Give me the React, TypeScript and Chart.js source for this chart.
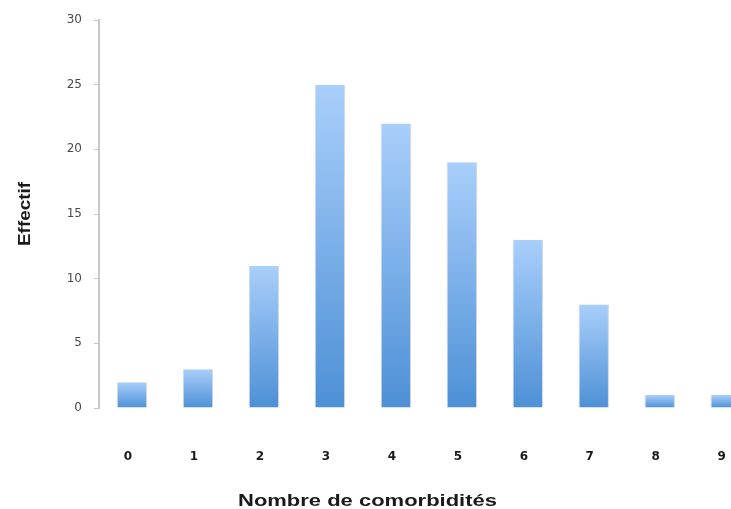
import React, { useEffect, useRef } from "react";
import { Chart, registerables } from "chart.js";

Chart.register(...registerables);

const categories = ["0", "1", "2", "3", "4", "5", "6", "7", "8", "9"];
const counts = [2, 3, 11, 25, 22, 19, 13, 8, 1, 1];
const yTicks = [0, 5, 10, 15, 20, 25, 30];
const xTitle = "Nombre de comorbidités";
const yTitle = "Effectif";

const FONT = "'DejaVu Sans', 'Liberation Sans', Arial, sans-serif";
const TFONT = "'Liberation Sans', Arial, Helvetica, sans-serif";

function drawStretched(
  ctx: CanvasRenderingContext2D,
  text: string,
  x: number,
  y: number,
  target: number
) {
  const w = ctx.measureText(text).width;
  const s = target / w;
  ctx.save();
  ctx.translate(x, y);
  ctx.scale(s, 1);
  ctx.fillText(text, 0, 0);
  ctx.restore();
}

export default function App() {
  const ref = useRef<HTMLCanvasElement | null>(null);

  useEffect(() => {
    document.body.style.overflow = "hidden";
    const canvas = ref.current!;
    const titlePlugin = {
      id: "titlesPlugin",
      afterDraw(chart: any) {
        const { ctx, chartArea } = chart;
        ctx.save();
        ctx.font = `bold 17px ${TFONT}`;
        ctx.fillStyle = "#1a1a1a";
        ctx.textAlign = "left";
        ctx.textBaseline = "alphabetic";
        drawStretched(ctx, xTitle, chartArea.left + 139, 506, 259);
        ctx.restore();

        ctx.save();
        ctx.font = `bold 16px ${TFONT}`;
        ctx.fillStyle = "#1a1a1a";
        ctx.translate(30, (chartArea.top + chartArea.bottom) / 2);
        ctx.rotate(-Math.PI / 2);
        ctx.textAlign = "left";
        ctx.textBaseline = "alphabetic";
        drawStretched(ctx, yTitle, -32, 0, 64);
        ctx.restore();
      },
    };
    const chart = new Chart(canvas, {
      type: "bar",
      data: {
        labels: categories,
        datasets: [
          {
            data: counts,
            backgroundColor: (c: any) => {
              const chart = c.chart;
              const y = chart.scales?.y;
              if (!y || c.raw == null) return "#7fb2ea";
              const top = y.getPixelForValue(c.raw);
              const base = y.getPixelForValue(0);
              if (!isFinite(top) || !isFinite(base) || top === base) return "#7fb2ea";
              const g = chart.ctx.createLinearGradient(0, top, 0, base);
              g.addColorStop(0, "#a9cffb");
              g.addColorStop(1, "#4d90d6");
              return g;
            },
            borderColor: "rgba(120,140,170,0.35)",
            borderWidth: { left: 1, right: 1, top: 0, bottom: 0 } as any,
            barPercentage: 0.46,
            categoryPercentage: 1,
          },
        ],
      },
      options: {
        animation: false,
        responsive: false,
        maintainAspectRatio: false,
        layout: { padding: { left: 0, right: 2, top: 20, bottom: 0 } },
        plugins: {
          legend: { display: false },
          tooltip: { enabled: false },
          title: { display: false },
        },
        scales: {
          x: {
            grid: { display: false },
            border: { display: false },
            ticks: {
              color: "#1a1a1a",
              font: { family: FONT, size: 12, weight: "bold" },
              padding: 34,
              labelOffset: -4,
              maxRotation: 0,
            },
            afterFit: (s: any) => {
              s.height = 101;
            },
          },
          y: {
            min: 0,
            max: 30,
            afterBuildTicks: (s: any) => {
              s.ticks = yTicks.map((v) => ({ value: v }));
            },
            grid: {
              display: true,
              drawOnChartArea: false,
              drawTicks: true,
              tickLength: 5,
              color: "#c8c8c8",
              lineWidth: 1,
            },
            border: { display: true, color: "#c8c8c8", width: 2 },
            ticks: {
              color: "#4a4a4a",
              font: { family: FONT, size: 12 },
              padding: 12,
            },
            afterFit: (s: any) => {
              s.width = 99;
            },
          },
        },
      },
      plugins: [titlePlugin],
    });
    return () => chart.destroy();
  }, []);

  return (
    <div
      style={{
        position: "absolute",
        left: 0,
        top: 0,
        width: 731,
        height: 509,
        overflow: "hidden",
        background: "#fff",
      }}
    >
      <canvas ref={ref} width={764} height={509} style={{ display: "block" }} />
    </div>
  );
}
